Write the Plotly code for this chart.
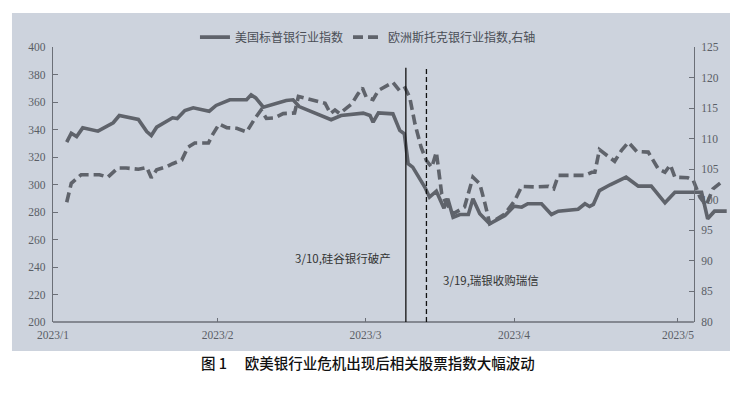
import plotly.graph_objects as go

# ---- data (x = trading-day position from 2023/1/1) ----
us_x = [1.8, 2.4, 3.1, 3.9, 5.9, 7.9, 8.7, 11.2, 12.3, 12.9, 13.6, 15.7, 16.3, 17.3, 18.4,
        20.5, 21.4, 23.2, 25.4, 26.0, 26.6, 27.6, 30.6, 31.5, 32.3, 36.5, 37.8, 40.7, 41.6,
        42.0, 42.7, 44.6, 45.5, 46.1, 46.6, 47.2, 48.8, 49.4, 50.3, 50.7, 51.3, 51.8, 52.5,
        53.4, 54.5, 55.1, 56.0, 57.3, 59.3, 60.5, 61.5, 62.3, 64.1, 65.4, 66.3, 68.9, 69.8,
        70.4, 70.9, 71.7, 73.1, 75.2, 76.8, 78.5, 80.3, 81.6, 85.1, 85.9, 86.8, 88.4]
us_val = [330.8, 337.3, 334.9, 341.2, 338.8, 344.9, 350.2, 347.3, 338.5, 335.6, 341.7, 348.5,
          348.0, 353.8, 355.8, 353.3, 357.5, 361.6, 361.6, 365.2, 363.0, 356.2, 361.1, 361.6,
          356.7, 347.1, 350.2, 351.9, 350.2, 345.3, 352.1, 351.4, 339.3, 336.9, 315.1, 312.6,
          298.0, 290.8, 295.1, 289.6, 282.8, 289.6, 276.2, 278.2, 278.2, 289.6, 278.7, 271.4,
          277.5, 284.2, 283.5, 286.0, 286.0, 278.2, 280.6, 282.0, 286.0, 284.0, 285.5, 295.6,
          299.8, 305.3, 298.8, 298.8, 286.7, 294.4, 294.4, 275.1, 280.6, 280.6]

eu_x = [1.8, 2.4, 3.7, 6.1, 7.2, 8.5, 9.6, 11.2, 12.3, 12.9, 13.6, 14.9, 15.7, 16.9, 17.7,
        18.6, 20.4, 21.0, 21.8, 22.8, 24.1, 25.4, 26.5, 27.3, 28.0, 29.1, 30.2, 31.7, 32.2,
        33.5, 34.8, 35.7, 36.4, 37.0, 37.6, 39.2, 40.0, 40.6, 41.1, 42.0, 42.7, 43.5, 44.6,
        45.5, 46.2, 46.8, 47.5, 48.3, 49.0, 49.7, 50.3, 51.0, 51.4, 52.5, 54.0, 55.1, 56.0,
        56.7, 57.3, 59.3, 60.6, 61.5, 63.2, 65.0, 65.7, 66.3, 69.8, 70.7, 71.1, 71.7, 72.8,
        73.7, 74.6, 75.5, 76.6, 78.1, 79.4, 80.3, 81.0, 81.6, 83.3, 84.0, 84.9, 85.7, 86.6, 87.7]
eu_val = [99.6, 102.7, 104.1, 104.1, 103.7, 105.2, 105.2, 105.0, 105.3, 103.6, 104.9, 105.4,
          105.9, 106.5, 108.6, 109.3, 109.3, 110.8, 112.4, 111.8, 111.7, 111.1, 113.3, 114.7,
          113.3, 113.4, 114.1, 114.2, 116.9, 116.5, 116.0, 115.8, 114.1, 114.7, 114.1, 115.7,
          117.3, 118.3, 116.8, 116.4, 117.9, 118.5, 119.2, 117.8, 118.3, 116.8, 112.4, 108.6,
          106.4, 105.3, 107.8, 101.0, 99.9, 97.7, 98.8, 103.7, 102.6, 99.3, 96.1, 97.7, 99.9,
          102.2, 102.1, 102.2, 101.8, 104.0, 104.0, 104.5, 104.5, 108.2, 107.2, 106.3, 108.1,
          109.4, 107.9, 107.8, 105.1, 104.5, 105.7, 103.7, 103.6, 103.2, 100.4, 99.1, 101.8, 102.9]

tick_pos = [0, 21.6, 41.0, 60.5, 82.0]
tick_text = ["2023/1", "2023/2", "2023/3", "2023/4", "2023/5"]

event_x = [46.3, 49.0]
event_text = ["3/10,硅谷银行破产", "3/19,瑞银收购瑞信"]

series_names = ["美国标普银行业指数", "欧洲斯托克银行业指数,右轴"]
caption = "图 1\u3000 欧美银行业危机出现后相关股票指数大幅波动"

# ---- styling ----
LINE = "#5f636b"
AXIS = "#6b6f77"
TICKC = "#5a5e66"
PANEL = "#cdd3dd"
SERIF = "Times New Roman, Liberation Serif, serif"
SANS = "Noto Sans CJK SC"
RIGHT_POS = 0.948

fig = go.Figure()
fig.add_trace(go.Scatter(x=us_x, y=us_val, mode="lines", name=series_names[0],
                         line=dict(color=LINE, width=3.6), yaxis="y"))
fig.add_trace(go.Scatter(x=eu_x, y=eu_val, mode="lines", name=series_names[1],
                         line=dict(color=LINE, width=3.6, dash="10px,5px"), yaxis="y2"))

shapes = [
    dict(type="rect", xref="paper", yref="paper", x0=-0.0607, x1=1.0015, y0=-0.1055, y1=1.1236,
         fillcolor=PANEL, line=dict(width=0), layer="below"),
    dict(type="line", xref="paper", yref="paper", x0=0, x1=RIGHT_POS, y0=0, y1=0,
         line=dict(color=AXIS, width=1.3)),
    dict(type="line", xref="x", yref="y", x0=event_x[0], x1=event_x[0], y0=200, y1=385,
         line=dict(color="#111111", width=1.3)),
    dict(type="line", xref="x", yref="y", x0=event_x[1], x1=event_x[1], y0=200, y1=385,
         line=dict(color="#111111", width=1.3, dash="5px,3px")),
]

annotations = [
    dict(x=event_x[0], y=246.5, xref="x", yref="y", text=event_text[0], showarrow=False,
         xanchor="right", yanchor="middle", xshift=-13,
         font=dict(family=SANS, size=11.5, color="#333333")),
    dict(x=event_x[1], y=230.5, xref="x", yref="y", text=event_text[1], showarrow=False,
         xanchor="left", yanchor="middle", xshift=15,
         font=dict(family=SANS, size=11.5, color="#333333")),
    dict(x=0.466, y=-0.149, xref="paper", yref="paper", text=caption, showarrow=False,
         xanchor="center", yanchor="middle",
         font=dict(family=SANS, size=14.5, color="#111111", weight=500)),
]

fig.update_layout(
    width=730, height=386,
    margin=dict(l=45, r=9, t=39, b=72, autoexpand=False),
    paper_bgcolor="white", plot_bgcolor="rgba(0,0,0,0)",
    showlegend=True,
    legend=dict(orientation="h", x=0.21, y=1.036, xanchor="left", yanchor="middle",
                bgcolor="rgba(0,0,0,0)", font=dict(family=SANS, size=12, color="#4a4e56"),
                itemwidth=30, tracegroupgap=0),
    xaxis=dict(range=[0, 88.7], tickmode="array", tickvals=tick_pos, ticktext=tick_text,
               showgrid=False, zeroline=False, showline=False, automargin=False,
               ticks="inside", ticklen=4, tickcolor=AXIS, tickwidth=1.2,
               tickfont=dict(family=SERIF, size=11.5, color=TICKC), ticklabelstandoff=4),
    yaxis=dict(range=[200, 400], dtick=20, showgrid=False, zeroline=False,
               showline=True, linecolor=AXIS, linewidth=1.3, automargin=False,
               ticks="inside", ticklen=5, tickcolor=AXIS, tickwidth=1.2,
               tickfont=dict(family=SERIF, size=11.5, color=TICKC), ticklabelstandoff=4),
    yaxis2=dict(range=[80, 125], dtick=5, overlaying="y", side="right", anchor="free",
                position=RIGHT_POS, showgrid=False, zeroline=False, automargin=False,
                showline=True, linecolor=AXIS, linewidth=1.3,
                ticks="inside", ticklen=5, tickcolor=AXIS, tickwidth=1.2,
                tickfont=dict(family=SERIF, size=11.5, color=TICKC), ticklabelstandoff=4),
    shapes=shapes,
    annotations=annotations,
)

fig.write_html("out.html")
